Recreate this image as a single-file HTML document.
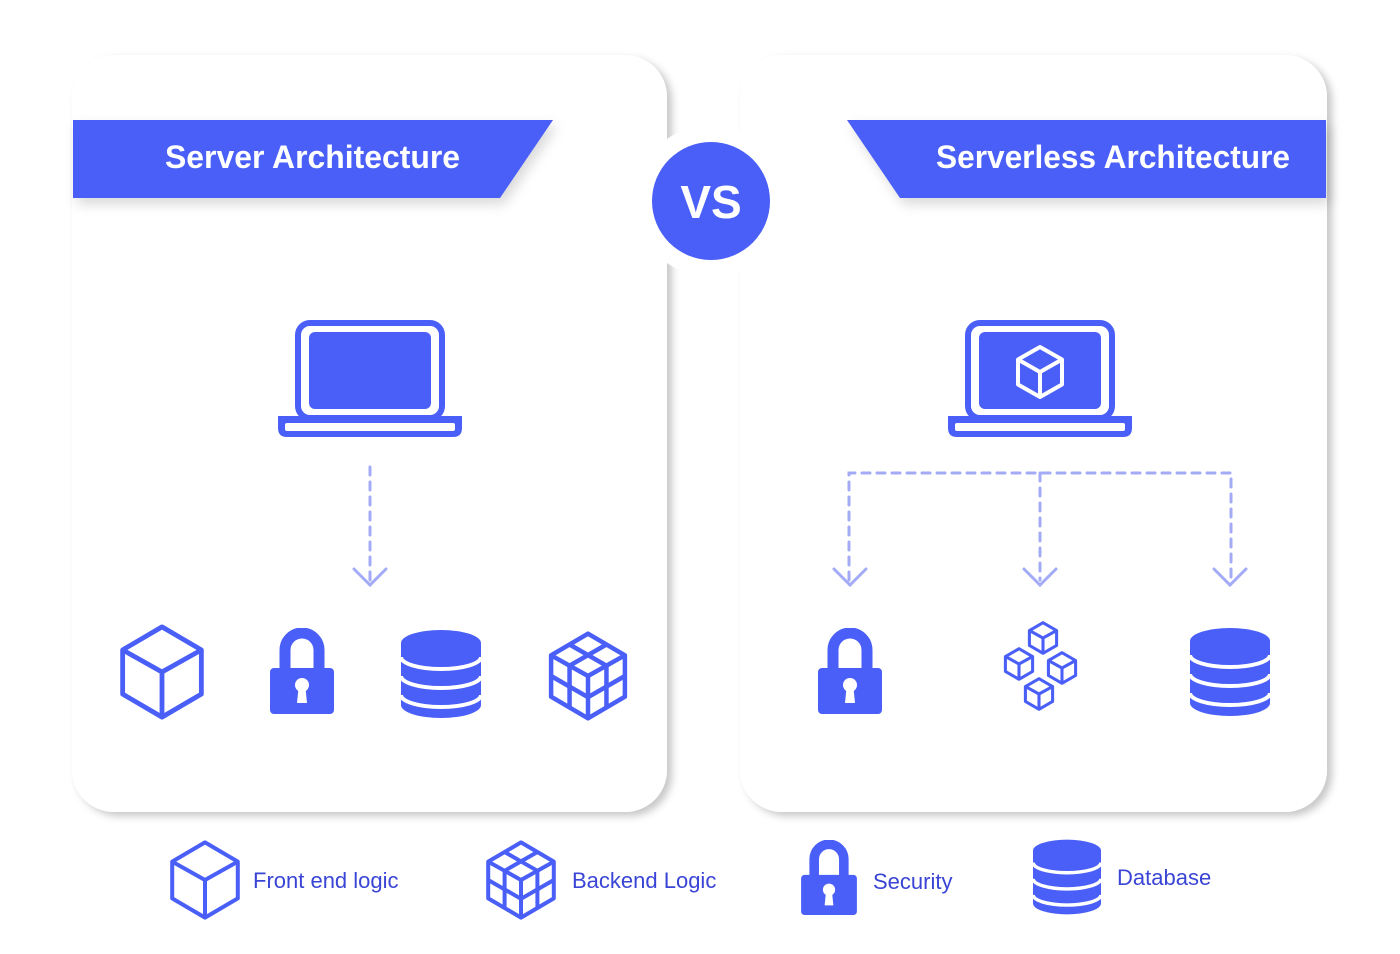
<!DOCTYPE html>
<html><head><meta charset="utf-8"><style>
html,body{margin:0;padding:0;background:#fff;}
svg{display:block;}
</style></head><body>
<svg width="1400" height="954" viewBox="0 0 1400 954" xmlns="http://www.w3.org/2000/svg" font-family="Liberation Sans, sans-serif">
<defs>
<filter id="sh" x="-10%" y="-10%" width="130%" height="130%">
<feDropShadow dx="5" dy="4" stdDeviation="4" flood-color="#000" flood-opacity="0.22"/>
</filter>
<filter id="sh2" x="-10%" y="-30%" width="130%" height="180%">
<feDropShadow dx="4" dy="6" stdDeviation="6" flood-color="#000" flood-opacity="0.15"/>
</filter>
<symbol id="cube" viewBox="0 0 100 100">
<g fill="none" stroke="#4a5ff7" stroke-width="5" stroke-linejoin="round">
<polygon points="50,3 91,27 91,73 50,97 9,73 9,27"/>
<polyline points="9,27 50,50 91,27"/><line x1="50" y1="50" x2="50" y2="97"/>
</g></symbol>
<symbol id="scube" viewBox="0 0 100 100">
<g fill="none" stroke="#4a5ff7" stroke-width="9" stroke-linejoin="round">
<polygon points="50,5 90,28 90,72 50,95 10,72 10,28"/>
<polyline points="10,28 50,50 90,28"/><line x1="50" y1="50" x2="50" y2="95"/>
</g></symbol>
<symbol id="rubik" viewBox="0 0 100 100">
<g fill="none" stroke="#4a5ff7" stroke-width="5" stroke-linejoin="round">
<polygon points="50,3 91,27 91,73 50,97 9,73 9,27"/>
<polyline points="9,27 50,50 91,27"/><line x1="50" y1="50" x2="50" y2="97"/>
<line x1="29.5" y1="15" x2="70.5" y2="38.5"/><line x1="70.5" y1="15" x2="29.5" y2="38.5"/>
<line x1="29.5" y1="38.5" x2="29.5" y2="85"/><line x1="9" y1="50" x2="50" y2="73.5"/>
<line x1="70.5" y1="38.5" x2="70.5" y2="85"/><line x1="91" y1="50" x2="50" y2="73.5"/>
</g></symbol>
<symbol id="lock" viewBox="0 0 64 86">
<path d="M15,42 V22 A17,17 0 0 1 49,22 V42" fill="none" stroke="#4a5ff7" stroke-width="11"/>
<rect x="0" y="40" width="64" height="46" rx="4" fill="#4a5ff7"/>
<circle cx="32" cy="57" r="7" fill="#fff"/><polygon points="28.5,60 35.5,60 37,75 27,75" fill="#fff"/>
</symbol>
<symbol id="db" viewBox="0 0 80 88">
<path d="M0,13 A40,13 0 0 1 80,13 V75 A40,13 0 0 1 0,75 Z" fill="#4a5ff7"/>
<g fill="none" stroke="#fff" stroke-width="4">
<path d="M0,27 A40,12 0 0 0 80,27"/><path d="M0,46 A40,12 0 0 0 80,46"/><path d="M0,65 A40,12 0 0 0 80,65"/>
</g></symbol>
<symbol id="laptop" viewBox="0 0 184 120">
<rect x="20" y="3" width="144" height="95" rx="12" fill="none" stroke="#4a5ff7" stroke-width="6"/>
<rect x="31" y="12" width="122" height="77" rx="6" fill="#4a5ff7"/>
<path d="M0,96 H184 V108 Q184,117 175,117 H9 Q0,117 0,108 Z" fill="#4a5ff7"/>
<rect x="7" y="103" width="170" height="8" rx="2" fill="#fff"/>
</symbol>
</defs>

<rect x="72" y="55" width="595" height="757" rx="42" fill="#fff" filter="url(#sh)"/>
<rect x="740" y="55" width="587" height="757" rx="42" fill="#fff" filter="url(#sh)"/>

<polygon points="73,120 553,120 500,198 73,198" fill="#4a5ff7" filter="url(#sh2)"/>
<polygon points="847,120 1326,120 1326,198 900,198" fill="#4a5ff7" filter="url(#sh2)"/>
<text x="165" y="168" font-size="32" fill="#fff" font-weight="bold" textLength="295" lengthAdjust="spacingAndGlyphs">Server Architecture</text>
<text x="936" y="168" font-size="32" fill="#fff" font-weight="bold" textLength="354" lengthAdjust="spacingAndGlyphs">Serverless Architecture</text>

<circle cx="711" cy="201" r="76" fill="#fff"/>
<circle cx="711" cy="201" r="59" fill="#4a5ff7"/>
<text x="711" y="218" font-size="46" font-weight="bold" fill="#fff" text-anchor="middle">VS</text>

<use href="#laptop" x="278" y="320" width="184" height="120"/>
<use href="#laptop" x="948" y="320" width="184" height="120"/>
<g transform="translate(1040,372)" fill="none" stroke="#fff" stroke-width="4" stroke-linejoin="round">
<polygon points="0,-25 22,-12.5 22,12.5 0,25 -22,12.5 -22,-12.5"/>
<polyline points="-22,-12.5 0,0 22,-12.5"/><line x1="0" y1="0" x2="0" y2="25"/>
</g>

<g fill="none" stroke="#a3abf6" stroke-width="3" stroke-linecap="round">
<line x1="370" y1="467" x2="370" y2="580" stroke-dasharray="8 7"/>
<polyline points="354,569 370,585 386,569"/>
<polyline points="849,580 849,473 1231,473 1231,580" stroke-dasharray="8 7"/>
<line x1="1040" y1="473" x2="1040" y2="580" stroke-dasharray="8 7"/>
<polyline points="834,569 850,585 866,569"/>
<polyline points="1024,569 1040,585 1056,569"/>
<polyline points="1214,569 1230,585 1246,569"/>
</g>

<use href="#cube" x="114" y="622" width="96" height="100"/>
<use href="#lock" x="270" y="628" width="64" height="86"/>
<use href="#db" x="401" y="630" width="80" height="88"/>
<use href="#rubik" x="543" y="627" width="90" height="98"/>

<use href="#lock" x="818" y="628" width="64" height="86"/>
<use href="#scube" x="1026" y="620" width="34" height="36"/>
<use href="#scube" x="1002" y="646" width="34" height="36"/>
<use href="#scube" x="1045" y="650" width="34" height="36"/>
<use href="#scube" x="1022" y="676" width="34" height="36"/>
<use href="#db" x="1190" y="628" width="80" height="88"/>

<use href="#cube" x="165" y="838" width="80" height="84"/>
<text x="253" y="888" font-size="22" fill="#3a45d6">Front end logic</text>
<use href="#rubik" x="481" y="838" width="80" height="84"/>
<text x="572" y="888" font-size="22" fill="#3a45d6">Backend Logic</text>
<use href="#lock" x="801" y="840" width="56" height="75"/>
<text x="873" y="889" font-size="22" fill="#3a45d6">Security</text>
<use href="#db" x="1033" y="839" width="68" height="76"/>
<text x="1117" y="885" font-size="22" fill="#3a45d6">Database</text>
</svg>
</body></html>
